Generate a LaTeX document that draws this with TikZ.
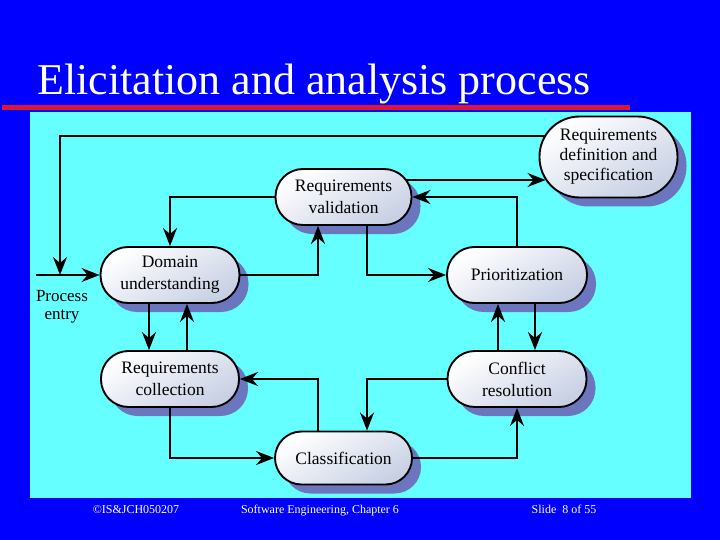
\documentclass[tikz,border=0pt]{standalone}
\usepackage{fontspec}
\setmainfont{Liberation Serif}
\usetikzlibrary{shadows,arrows.meta,calc}
\definecolor{bgblue}{RGB}{0,0,255}
\definecolor{panelc}{RGB}{102,255,255}
\definecolor{redc}{RGB}{220,20,60}
\definecolor{shadowc}{RGB}{108,118,190}
\definecolor{nodeg}{RGB}{200,208,228}
\begin{document}
\begin{tikzpicture}[x=1pt,y=-1pt,
  proc/.style={draw=black, line width=1.9pt, rectangle, rounded corners=27.5pt,
    minimum height=56pt, minimum width=138pt, inner sep=0pt, align=center,
    font=\fontsize{17.5}{22}\selectfont,
    top color=white, bottom color=nodeg, shading angle=30,
    drop shadow={shadow xshift=9pt, shadow yshift=-9pt, fill=shadowc, opacity=1}},
  conn/.style={line width=1.9pt, -{Stealth[length=18pt,width=14pt,inset=6pt]}},
  foot/.style={text=white, font=\fontsize{12}{14}\selectfont, inner sep=0pt, anchor=base}]
\useasboundingbox (0,0) rectangle (720,540);
\fill[bgblue] (0,0) rectangle (720,540);
\node[anchor=base west, text=white, font=\fontsize{44}{48}\selectfont, inner sep=0pt] (title) at (37,95) {Elicitation and analysis process};
\fill[redc] (2,105) rectangle (630,110);
\fill[panelc] (30,112) rectangle (691,498);

\node[proc, minimum width=138pt, minimum height=81pt, rounded corners=40pt,
  font=\fontsize{17.5}{20}\selectfont] (rds) at (608.5,157) {Requirements\\definition and\\specification};
\node[proc, minimum width=136pt] (val) at (343.5,197) {Requirements\\validation};
\node[proc, minimum width=139pt] (dom) at (170,275) {Domain\\understanding};
\node[proc, minimum width=140pt] (pri) at (517,275) {Prioritization};
\node[proc, minimum width=138pt] (col) at (170,379) {Requirements\\collection};
\node[proc, minimum width=139pt] (con) at (517,379) {Conflict\\resolution};
\node[proc, minimum width=137pt, minimum height=53pt, rounded corners=26.5pt] (cls) at (343.5,458) {Classification};

\coordinate (entry) at (36,275);
\coordinate (join) at (60,275);
\node[anchor=north, align=center, font=\fontsize{17}{18}\selectfont, inner sep=0pt] (pe) at (62,290) {Process\\entry};

% connectors
\draw[conn] ($(rds.west)+(6,-21)$) -| (join);
\draw[conn] (entry) -- (dom.west);
\draw[conn] (val.west) -| (dom.north);
\draw[conn] (dom.east) -| ($(val.south)+(-25.5,0)$);
\draw[conn] ($(val.east)+(-6,-17)$) -- ($(rds.west)+(7,23)$);
\draw[conn] (pri.north) |- (val.east);
\draw[conn] ($(val.south)+(23.5,0)$) |- (pri.west);
\draw[conn] ($(dom.south)+(-21,0)$) -- ($(col.north)+(-21,0)$);
\draw[conn] ($(col.north)+(17,0)$) -- ($(dom.south)+(17,0)$);
\draw[conn] ($(con.north)+(-19,0)$) -- ($(pri.south)+(-19,0)$);
\draw[conn] ($(pri.south)+(18,0)$) -- ($(con.north)+(18,0)$);
\draw[conn] ($(cls.north)+(-25.5,0)$) |- (col.east);
\draw[conn] (col.south) |- (cls.west);
\draw[conn] (con.west) -| ($(cls.north)+(23.5,0)$);
\draw[conn] (cls.east) -| (con.south);

\node[foot] (f1) at (136,513) {©IS\&JCH050207};
\node[foot] (f2) at (320,513) {Software Engineering, Chapter 6};
\node[foot] (f3) at (564,513) {Slide\ \ 8 of 55};
\end{tikzpicture}
\end{document}
